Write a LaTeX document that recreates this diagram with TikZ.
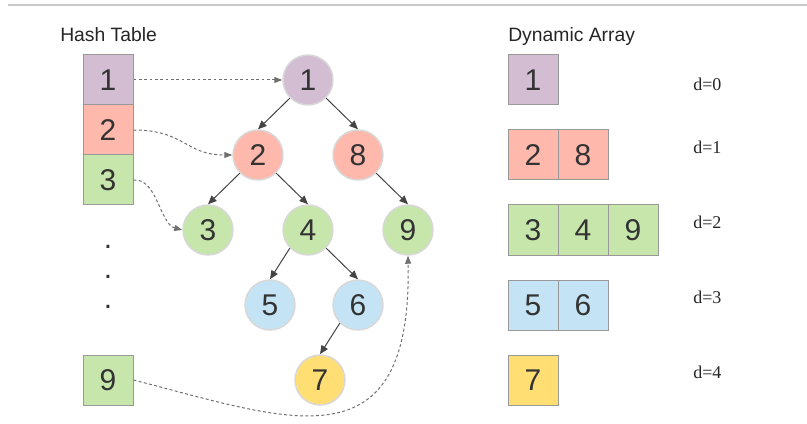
\documentclass[tikz,border=0pt]{standalone}
\usepackage{fontspec}
\setmainfont{Liberation Sans}
\newfontfamily\serifdfont{Liberation Serif}
\usetikzlibrary{arrows.meta}
\definecolor{cpurple}{HTML}{D3BDD3}
\definecolor{cpink}{HTML}{FFB8AC}
\definecolor{cgreen}{HTML}{C7E6AB}
\definecolor{cblue}{HTML}{C4E3F5}
\definecolor{cyellow}{HTML}{FFDE73}
\definecolor{circborder}{HTML}{D8D8D8}
\definecolor{cellborder}{HTML}{999999}
\definecolor{edgec}{HTML}{444444}
\definecolor{linkc}{HTML}{707070}
\definecolor{digitc}{HTML}{333333}
\definecolor{rulec}{HTML}{C8C8C8}
\tikzset{
  tnode/.style={circle, minimum size=37.5pt, inner sep=0pt, draw=circborder, line width=1.1pt, text=digitc, font=\fontsize{22.5}{24}\selectfont},
  cell/.style={rectangle, minimum size=37.5pt, inner sep=0pt, draw=cellborder, line width=0.75pt, text=digitc, font=\fontsize{22.5}{24}\selectfont},
  edge/.style={draw=edgec, line width=0.75pt, -{Triangle[length=6.5pt,width=5.5pt]}},
  link/.style={draw=linkc, line width=0.75pt, dash pattern=on 2.2pt off 1.8pt, -{Triangle[length=6pt,width=4.5pt]}},
  title/.style={anchor=base west, inner sep=0pt, text=black!85, font=\fontsize{14.5}{16}\selectfont},
  dlabel/.style={anchor=base west, inner sep=0pt, text=black!85, font=\serifdfont\fontsize{13.5}{16}\selectfont},
  dotlabel/.style={anchor=base, inner sep=0pt, text=digitc, font=\fontsize{22.5}{24}\selectfont},
}
\begin{document}
\begin{tikzpicture}[x=0.75pt, y=-0.75pt]
\useasboundingbox (0,0) rectangle (807,424);
\coordinate (ruleL) at (8,5);
\coordinate (ruleR) at (807,5);
\draw[rulec, line width=0.9pt] (ruleL) -- (ruleR);

% titles
\node[title] (ht) at (60,42) {Hash Table};
\node[title] (da) at (508,42) {Dynamic Array};

% hash table
\node[cell, fill=cpurple] (h1) at (108,80) {1};
\node[cell, fill=cpink] (h2) at (108,130) {2};
\node[cell, fill=cgreen] (h3) at (108,180) {3};
\node[dotlabel] (d1) at (108,248.7) {.};
\node[dotlabel] (d2) at (108,278.7) {.};
\node[dotlabel] (d3) at (108,308.7) {.};
\node[cell, fill=cgreen] (h9) at (108,380) {9};

% tree
\node[tnode, fill=cpurple] (t1) at (308,80) {1};
\node[tnode, fill=cpink] (t2) at (258,155) {2};
\node[tnode, fill=cpink] (t8) at (358,155) {8};
\node[tnode, fill=cgreen] (t3) at (208,230) {3};
\node[tnode, fill=cgreen] (t4) at (308,230) {4};
\node[tnode, fill=cgreen] (t9) at (408,230) {9};
\node[tnode, fill=cblue] (t5) at (270,305) {5};
\node[tnode, fill=cblue] (t6) at (358,305) {6};
\node[tnode, fill=cyellow] (t7) at (320,380) {7};

\draw[edge] (t1.south west) -- (t2.north);
\draw[edge] (t1.south east) -- (t8.north);
\draw[edge] (t2.south west) -- (t3.north);
\draw[edge] (t2.south east) -- (t4.north);
\draw[edge] (t8.south east) -- (t9.north);
\draw[edge] (t4.south west) -- (t5.north);
\draw[edge] (t4.south east) -- (t6.north);
\draw[edge] (t6.south west) -- (t7.north);

% hash links
\draw[link] (h1.east) -- (t1.west);
\draw[link] (h2.east) .. controls (185,130) and (185,155) .. (t2.west);
\draw[link] (h3.east) .. controls (157,178) and (160,224) .. (t3.west);
\draw[link] (h9.east) .. controls (290,420) and (412,470) .. (t9.south);

% dynamic array
\node[cell, fill=cpurple] (a1) at (533,80) {1};
\node[cell, fill=cpink] (a2) at (533,155) {2};
\node[cell, fill=cpink] (a8) at (583,155) {8};
\node[cell, fill=cgreen] (a3) at (533,230) {3};
\node[cell, fill=cgreen] (a4) at (583,230) {4};
\node[cell, fill=cgreen] (a9) at (633,230) {9};
\node[cell, fill=cblue] (a5) at (533,305) {5};
\node[cell, fill=cblue] (a6) at (583,305) {6};
\node[cell, fill=cyellow] (a7) at (533,380) {7};

\node[dlabel] (l0) at (693,90.7) {d=0};
\node[dlabel] (l1) at (693,153.3) {d=1};
\node[dlabel] (l2) at (693,228.3) {d=2};
\node[dlabel] (l3) at (693,303.3) {d=3};
\node[dlabel] (l4) at (693,378.3) {d=4};
\end{tikzpicture}
\end{document}
